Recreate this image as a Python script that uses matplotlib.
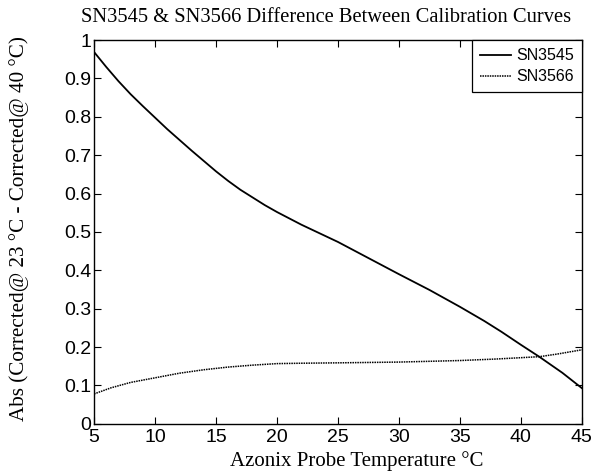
import matplotlib
matplotlib.use("Agg")
import matplotlib.pyplot as plt
import numpy as np

# SN3545 (solid)
t1 = [5.0, 6.0, 7.0, 8.0, 9.0, 10.0, 11.0, 12.0, 13.0, 14.0, 15.0, 16.0, 17.0, 18.0, 19.0, 20.0,
      22.0, 25.0, 27.5, 30.0, 32.5, 35.0, 37.0, 38.4, 40.0, 41.5, 43.4, 45.0]
v1 = [0.969, 0.930, 0.893, 0.859, 0.828, 0.798, 0.768, 0.740, 0.712, 0.685, 0.658, 0.633, 0.610,
      0.590, 0.570, 0.552, 0.519, 0.474, 0.432, 0.390, 0.349, 0.305, 0.268, 0.240, 0.206, 0.175,
      0.133, 0.093]

# SN3566 (dotted)
t2 = [5.0, 6.4, 8.0, 10.0, 12.0, 14.0, 16.0, 18.0, 20.0, 22.0, 25.0, 30.0, 35.0, 38.0, 41.5, 43.0, 45.0]
v2 = [0.078, 0.094, 0.108, 0.120, 0.132, 0.141, 0.148, 0.153, 0.157, 0.158, 0.159, 0.161, 0.165,
      0.169, 0.175, 0.182, 0.193]

xticks = [5, 10, 15, 20, 25, 30, 35, 40, 45]
yticks = [0, 0.1, 0.2, 0.3, 0.4, 0.5, 0.6, 0.7, 0.8, 0.9, 1]
yticklabels = ["0", "0.1", "0.2", "0.3", "0.4", "0.5", "0.6", "0.7", "0.8", "0.9", "1"]

fig = plt.figure(figsize=(6.03, 4.72), dpi=100)
ax = fig.add_axes([0.156, 0.102, 0.809, 0.813])

ax.plot(t1, v1, color="black", linewidth=1.3, linestyle="-", label="SN3545")
ax.plot(t2, v2, color="black", linewidth=1.1, linestyle=(0, (1, 0.6)), label="SN3566")

ax.set_xlim(5, 45)
ax.set_ylim(0, 1)
ax.set_xticks(xticks)
ax.set_xticklabels([str(x) for x in xticks], fontfamily="Liberation Sans", fontsize=14)
ax.set_yticks(yticks)
ax.set_yticklabels(yticklabels, fontfamily="Liberation Sans", fontsize=14)
ax.tick_params(direction="in", length=5, width=0.8, top=True, right=True)
ax.tick_params(axis="x", pad=4)
ax.tick_params(axis="y", pad=2)
for s in ax.spines.values():
    s.set_linewidth(1.0)

fig.text(0.541, 0.962, "SN3545 & SN3566 Difference Between Calibration Curves",
         fontfamily="Liberation Serif", fontsize=14.8, ha="center", va="center")
ax.set_xlabel("Azonix Probe Temperature °C", fontfamily="Liberation Serif", fontsize=15, labelpad=2)
ax.xaxis.set_label_coords(0.539, -0.072)
ax.xaxis.label.set_va("top")
ax.set_ylabel("Abs (Corrected@ 23 °C - Corrected@ 40 °C)", fontfamily="Liberation Serif",
              fontsize=15.2, va="center")
ax.yaxis.set_label_coords(-0.154, 0.51)

leg = ax.legend(loc="upper right", borderaxespad=0, fancybox=False, framealpha=1,
                edgecolor="black", prop={"family": "Liberation Sans", "size": 11.5},
                handlelength=1.9, handletextpad=0.35, borderpad=0.5, labelspacing=0.4)
leg.get_frame().set_linewidth(0.9)

fig.savefig("out.png", dpi=100)
